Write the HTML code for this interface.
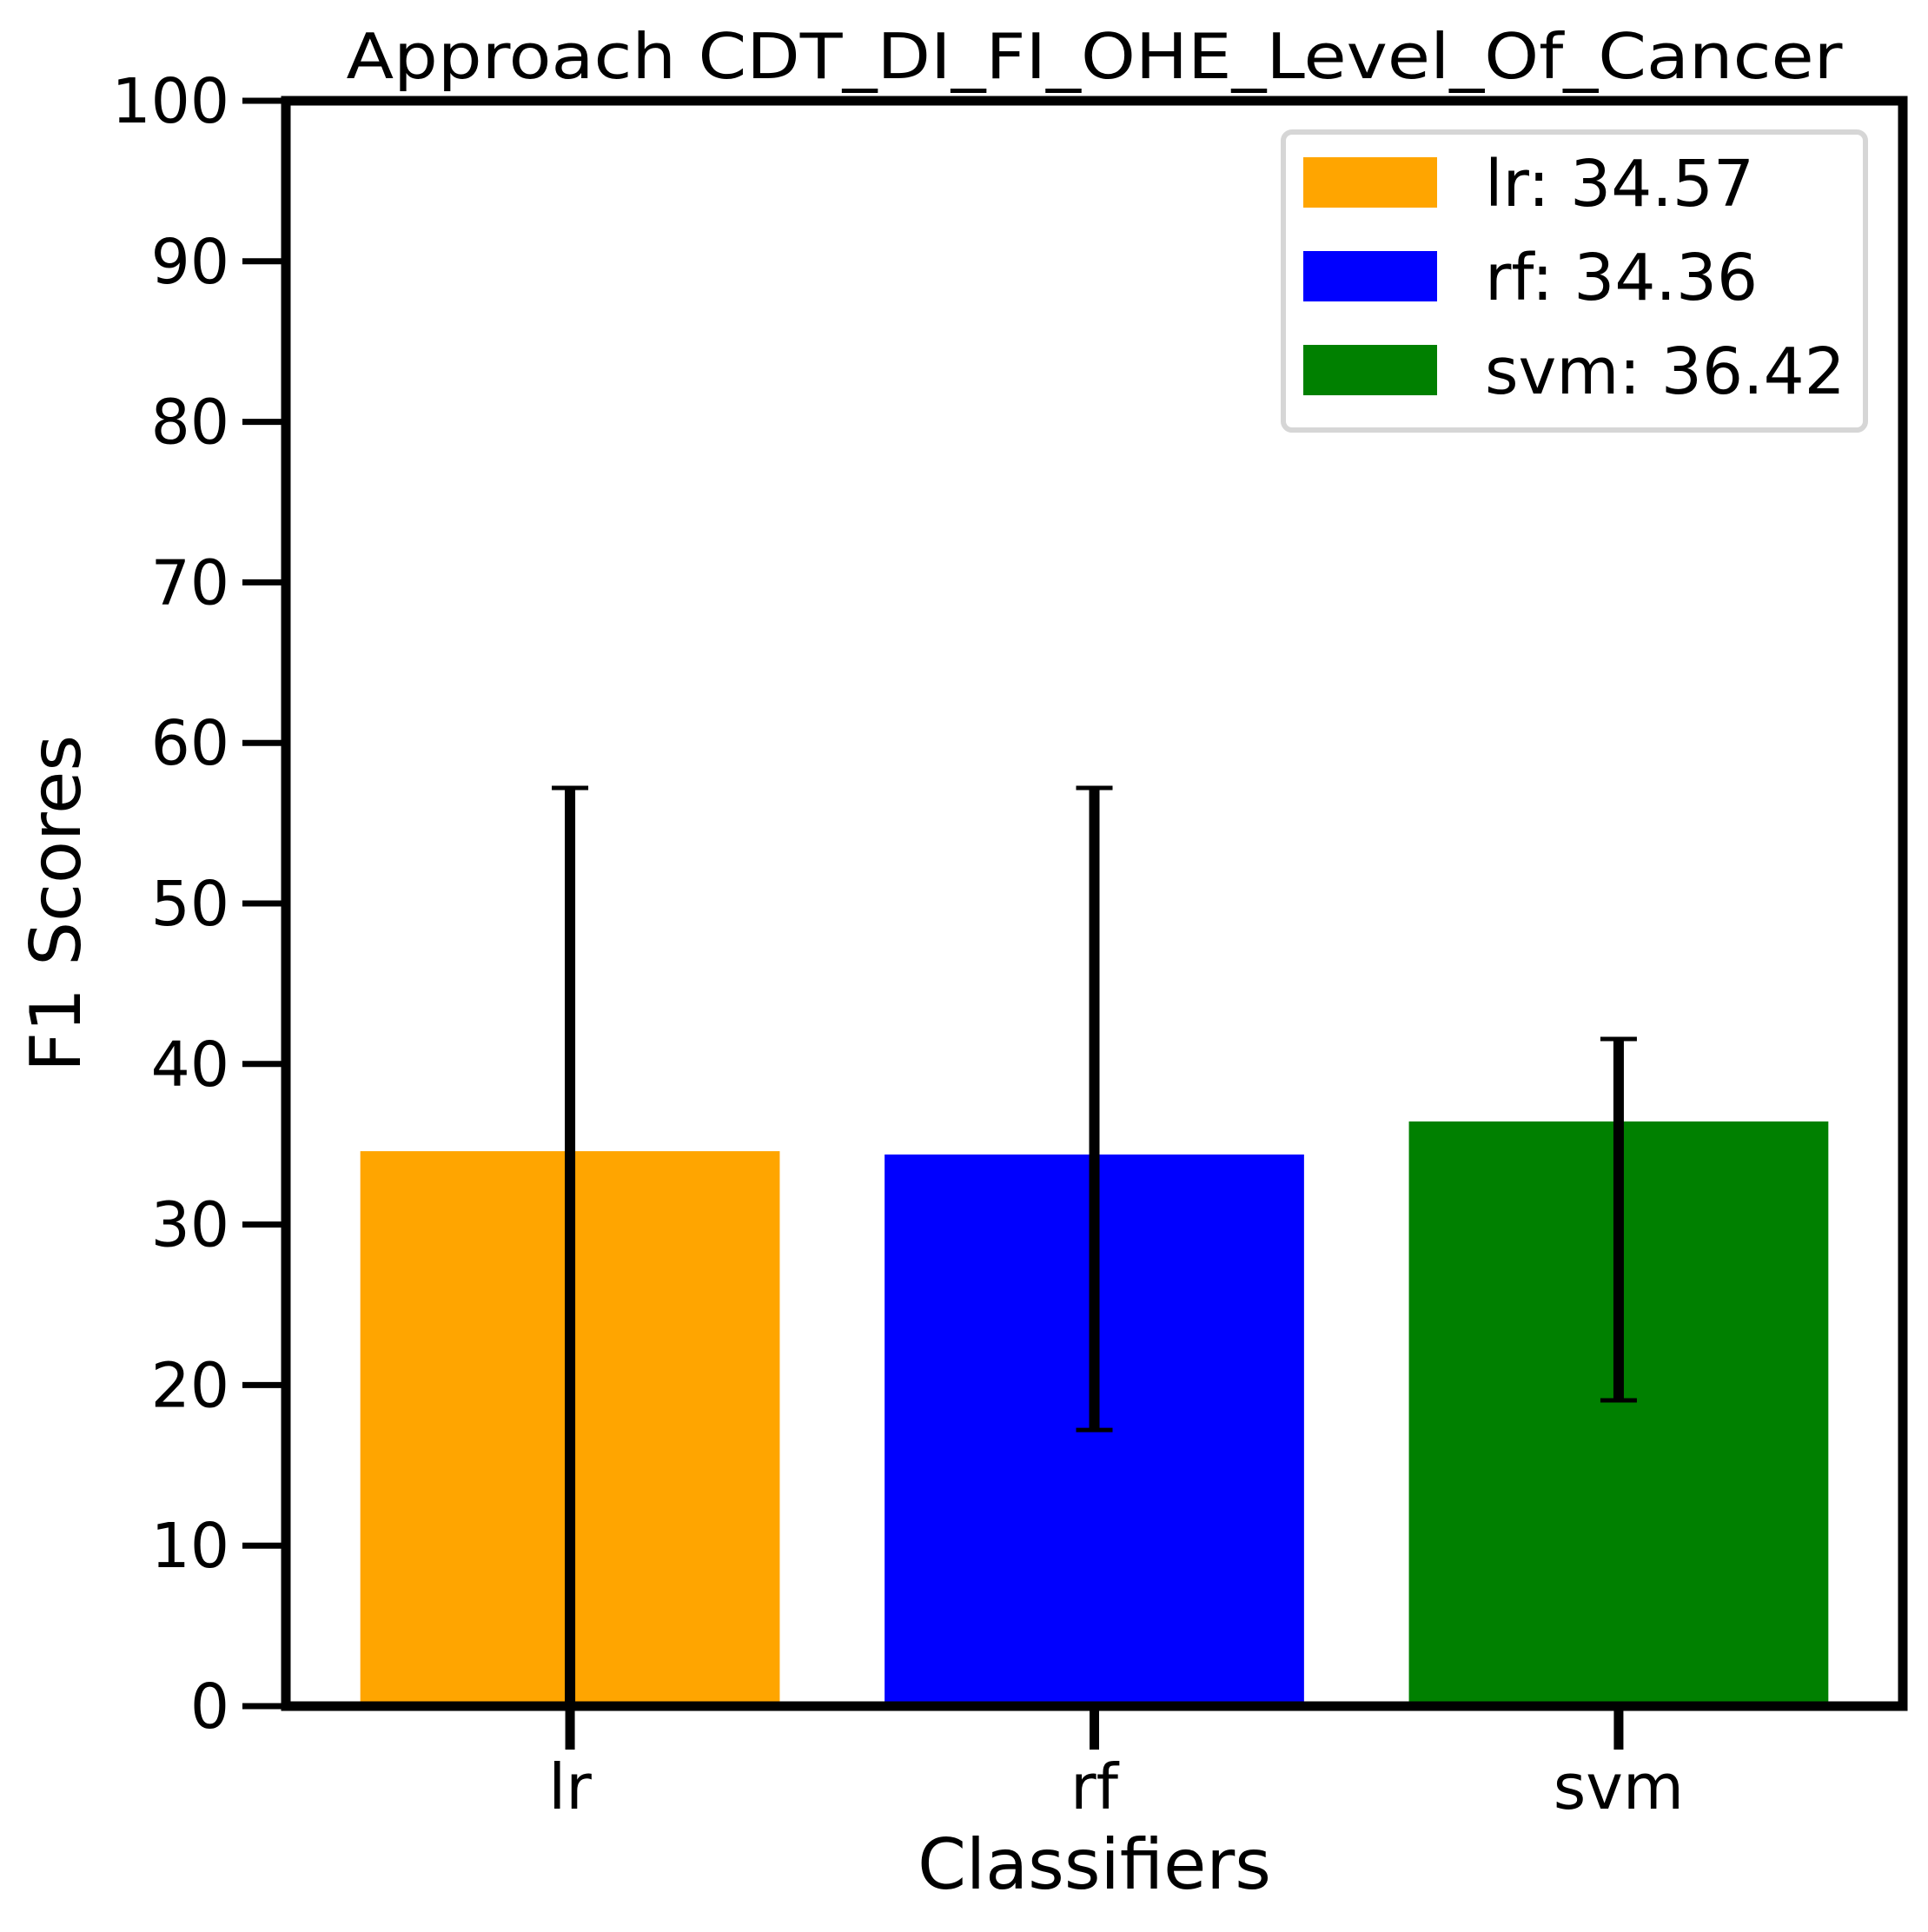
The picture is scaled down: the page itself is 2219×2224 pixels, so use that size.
<!DOCTYPE html>
<html><head><meta charset="utf-8"><style>html,body{margin:0;padding:0;background:#fff}svg{display:block}</style></head>
<body>
<svg id="chart" width="2219" height="2224" viewBox="0 0 2219 2224" xmlns="http://www.w3.org/2000/svg" font-family="'DejaVu Sans','Liberation Sans',sans-serif">
<rect width="2219" height="2224" fill="#fff"/>
<g id="plot"></g>
</svg>
<script>
const categories = ["lr", "rf", "svm"];
const values = [34.57, 34.36, 36.42];
const errLow = [0.0, 17.2, 19.05];
const errHigh = [57.2, 57.2, 41.56];
const colors = ["#ffa500", "#0000ff", "#008000"];
const yTicks = [0,10,20,30,40,50,60,70,80,90,100];
const legendLabels = ["lr: 34.57", "rf: 34.36", "svm: 36.42"];

const NS = "http://www.w3.org/2000/svg";
const L = 329, R = 2190, T = 116, B = 1964;
const xMin = -0.542, xMax = 2.542;
function xs(v){ return L + (v - xMin) / (xMax - xMin) * (R - L); }
function ys(v){ return B - v / 100 * (B - T); }
const g = document.getElementById("plot");
function mk(tag, attrs, parent){
  const e = document.createElementNS(NS, tag);
  for (const k in attrs) e.setAttribute(k, attrs[k]);
  (parent || g).appendChild(e);
  return e;
}

categories.forEach((c, i) => {
  const x0 = xs(i - 0.4), x1 = xs(i + 0.4);
  const r = mk("rect", {x: x0, y: ys(values[i]), width: x1 - x0, height: B - ys(values[i]), fill: colors[i]});
  
  
});
categories.forEach((c, i) => {
  const cx = xs(i);
  const eg = mk("g", {});
  
  
  mk("line", {x1: cx, x2: cx, y1: ys(errLow[i]), y2: ys(errHigh[i]), stroke: "#000", "stroke-width": 12}, eg);
  mk("line", {x1: cx - 21, x2: cx + 21, y1: ys(errHigh[i]), y2: ys(errHigh[i]), stroke: "#000", "stroke-width": 5}, eg);
  mk("line", {x1: cx - 21, x2: cx + 21, y1: ys(errLow[i]), y2: ys(errLow[i]), stroke: "#000", "stroke-width": 5}, eg);
});
const frame = mk("rect", {x: L, y: T, width: R - L, height: B - T, fill: "none", stroke: "#000", "stroke-width": 11});


yTicks.forEach(v => {
  const y = ys(v);
  const tl = mk("line", {x1: L - 50, x2: L, y1: y, y2: y, stroke: "#000", "stroke-width": 7});
  
  
  const t = mk("text", {x: L - 65, y: y + 25, "text-anchor": "end", "font-size": 71, fill: "#000"});
  t.textContent = v;
  
  
});
categories.forEach((c, i) => {
  const x = xs(i);
  const tl = mk("line", {x1: x, x2: x, y1: B, y2: B + 50, stroke: "#000", "stroke-width": 11});
  
  
  const t = mk("text", {x: x, y: 2082, "text-anchor": "middle", "font-size": 72, fill: "#000"});
  t.textContent = c;
  
  
});
const title = mk("text", {x: (L + R) / 2, y: 90, "text-anchor": "middle", "font-size": 72, fill: "#000", textLength: 1722, lengthAdjust: "spacingAndGlyphs"});
title.textContent = "Approach CDT_DI_FI_OHE_Level_Of_Cancer";


const xl = mk("text", {x: (L + R) / 2, y: 2174, "text-anchor": "middle", "font-size": 80, fill: "#000"});
xl.textContent = "Classifiers";


const yl = mk("text", {x: 0, y: 0, "text-anchor": "middle", "font-size": 80, fill: "#000", transform: "translate(92,1040) rotate(-90)"});
yl.textContent = "F1 Scores";


const lg = mk("g", {});


mk("rect", {x: 1477, y: 152, width: 670, height: 343, rx: 10, fill: "#fff", stroke: "#d6d6d6", "stroke-width": 6}, lg);
legendLabels.forEach((s, i) => {
  const y0 = 181 + i * 108;
  const e = mk("g", {}, lg);
  
  
  mk("rect", {x: 1500, y: y0, width: 154, height: 58, fill: colors[i]}, e);
  const t = mk("text", {x: 1709, y: y0 + 56, "font-size": 74, fill: "#000"}, e);
  t.textContent = s;
});
</script>
</body></html>
